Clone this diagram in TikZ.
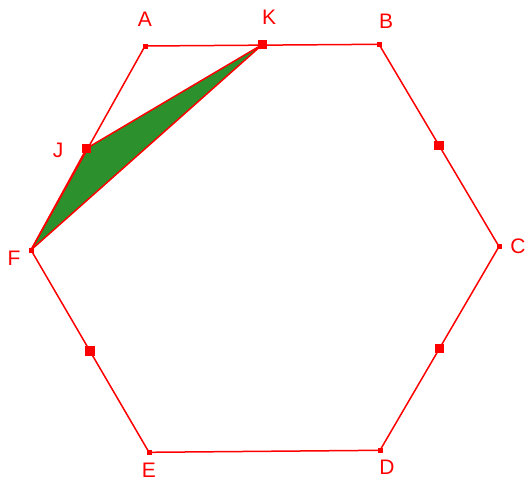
\documentclass[tikz,border=0pt]{standalone}
\usepackage{fontspec}
\setmainfont{Liberation Sans}
\usetikzlibrary{calc}
\definecolor{gred}{RGB}{255,0,0}
\definecolor{ggreen}{RGB}{44,145,44}
\begin{document}
\begin{tikzpicture}[x=1pt,y=-1pt,
  edge/.style={draw=gred,line width=1.5pt},
  vtx/.style={fill=gred,minimum size=5pt,inner sep=0pt,draw=none,rectangle},
  bigpt/.style={fill=gred,minimum size=9.5pt,inner sep=0pt,draw=none,rectangle},
  lbl/.style={text=gred,font=\fontsize{21}{21}\selectfont,inner sep=0pt}]
\useasboundingbox (0,0) rectangle (529,482);
\coordinate (A) at (145,46);
\coordinate (K) at (262.7,44.3);
\coordinate (B) at (379,44.3);
\coordinate (C) at (499,246.5);
\coordinate (D) at (380,450.3);
\coordinate (E) at (149,452.3);
\coordinate (F) at (31,250);
\coordinate (J) at (86.7,148.3);
% filled triangle
\filldraw[fill=ggreen,draw=gred,line width=1.5pt,line join=round] (F) -- (J) -- (K) -- cycle;
% hexagon
\draw[edge,line join=round] (A) -- (B) -- (C) -- (D) -- (E) -- (F) -- cycle;
% vertex markers
\foreach \p in {A,B,C,D,E,F} \node[vtx] at (\p) {};
\node[bigpt] (Kp) at (K) {};
\node[bigpt] (Jp) at (J) {};
\node[bigpt] (mBC) at ($(B)!0.5!(C)$) {};
\node[bigpt] (mCD) at ($(C)!0.5!(D)$) {};
\node[bigpt] (mEF) at ($(E)!0.5!(F)$) {};
% labels
\node[lbl] (lA) at (145,19) {A};
\node[lbl] (lK) at (269,17) {K};
\node[lbl] (lB) at (386,21) {B};
\node[lbl] (lC) at (518,246) {C};
\node[lbl] (lD) at (387,467) {D};
\node[lbl] (lE) at (149,470) {E};
\node[lbl] (lF) at (14,258) {F};
\node[lbl] (lJ) at (58,150) {J};
\end{tikzpicture}
\end{document}
